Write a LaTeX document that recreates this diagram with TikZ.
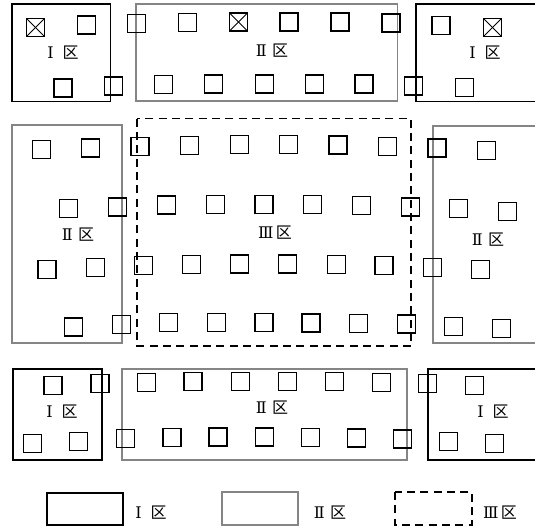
\documentclass[tikz,border=0pt]{standalone}
\usepackage{fontspec}
\newfontfamily\cjk{Noto Sans CJK SC}
\newfontfamily\romfont{DejaVu Serif}
\newcommand{\zl}[2]{{\romfont #1}\hspace{#2}{\cjk 区}}
\begin{document}
\begin{tikzpicture}[x=0.75pt,y=-0.75pt,
  sq/.style={draw=black,line width=1.3pt,minimum size=13.5pt,inner sep=0pt,outer sep=0pt},
  zoneone/.style={draw=black,line width=1.2pt},
  zonetwo/.style={draw=black!48,line width=1.3pt},
  zonethree/.style={draw=black,line width=1.3pt,dash pattern=on 6pt off 4pt},
  lab/.style={font=\fontsize{12pt}{13pt}\selectfont,inner sep=0pt},
  xline/.style={line width=0.6pt}]
\useasboundingbox (0,0) rectangle (535,528);
\clip (0,0) rectangle (535,528);
% zones
\draw[zoneone] (12,4) rectangle (110.5,101.5);
\draw[zonetwo] (136,4) rectangle (397.5,101);
\draw[zoneone] (416,4) rectangle (545,101.5);
\draw[zonetwo] (12,125) rectangle (122,343);
\draw[zonethree] (137,118.5) rectangle (411,346);
\draw[zonetwo] (433,126) rectangle (545,343);
\draw[zoneone] (13,369) rectangle (102,460);
\draw[zonetwo] (122,369) rectangle (407,460);
\draw[zoneone] (428,369) rectangle (545,460);
% squares
\foreach \n/\x/\y in {a1/35.5/27.5,a2/86.5/25,a3/136.5/23.5,a4/187.5/22.5,a5/238.5/22,a6/289/22,a7/340/22,a8/391/23,a9/441/25.5,a10/492.5/27.5,
  b1/63/88,b2/113.5/86,b3/163.5/84.5,b4/213.5/84,b5/264.5/84,b6/314.5/84,b7/364/84,b8/413.5/86,b9/464.5/87.5,
  c1/41.5/149.5,c2/90.5/148,c3/140/146.5,c4/189.5/145.5,c5/239.5/144.5,c6/288.5/144.5,c7/338/145,c8/387.5/146.5,c9/437/148,c10/486.5/150.5,
  d1/68.5/208.5,d2/117.5/207,d3/166.5/205,d4/215.5/204.5,d5/264/204.5,d6/312.5/204.5,d7/361.5/205.5,d8/410.5/207,d9/458.5/208.5,d10/507.5/211.5,
  e1/47/269.5,e2/95.5/267.5,e3/143.5/265.5,e4/191.5/264.5,e5/239.5/264,e6/287.5/264,e7/336.5/264.5,e8/384/265.5,e9/432.5/267.5,e10/480.5/269.5,
  f1/73.5/327,f2/121.5/324.5,f3/168.5/322.5,f4/216.5/322.5,f5/264/322.5,f6/311/323,f7/358.5/323.5,f8/406.5/324,f9/453.5/326.5,f10/501.5/328.5,
  g1/53/385.5,g2/100/383.5,g3/146.5/382.5,g4/193/381.5,g5/240.5/381.5,g6/287.5/381.5,g7/334.5/381.5,g8/381.5/382.5,g9/427.5/383.5,g10/474.5/385.5,
  h1/32.5/443.5,h2/78.5/441.5,h3/125.5/438.5,h4/172/437.5,h5/218/437,h6/264.5/437,h7/310.5/437.5,h8/356.5/438,h9/402.5/439,h10/448.5/441.5,h11/494.5/443.5}
  \node[sq] (\n) at (\x,\y) {};
% crosses
\foreach \n in {a1,a5,a10}{
  \draw[xline] (\n.north west) -- (\n.south east);
  \draw[xline] (\n.north east) -- (\n.south west);}
% zone labels
\node[lab] (t1) at (63,53) {\zl{Ⅰ}{0.55em}};
\node[lab] (t2) at (272,51) {\zl{Ⅱ}{0.35em}};
\node[lab] (t3) at (485,53) {\zl{Ⅰ}{0.55em}};
\node[lab] (t4) at (78,235) {\zl{Ⅱ}{0.35em}};
\node[lab] (t5) at (275,233) {\zl{Ⅲ}{0.15em}};
\node[lab] (t6) at (488,240) {\zl{Ⅱ}{0.35em}};
\node[lab] (t7) at (62,412) {\zl{Ⅰ}{0.55em}};
\node[lab] (t8) at (272,408) {\zl{Ⅱ}{0.35em}};
\node[lab] (t9) at (493,412) {\zl{Ⅰ}{0.55em}};
% legend
\draw[zoneone] (47,493) rectangle (123,525);
\draw[zonetwo] (222,492) rectangle (298,525);
\draw[zonethree] (395,492) rectangle (472,525);
\node[lab] (k1) at (151,513) {\zl{Ⅰ}{0.55em}};
\node[lab] (k2) at (330,513) {\zl{Ⅱ}{0.35em}};
\node[lab] (k3) at (500,513) {\zl{Ⅲ}{0.15em}};
\end{tikzpicture}
\end{document}
